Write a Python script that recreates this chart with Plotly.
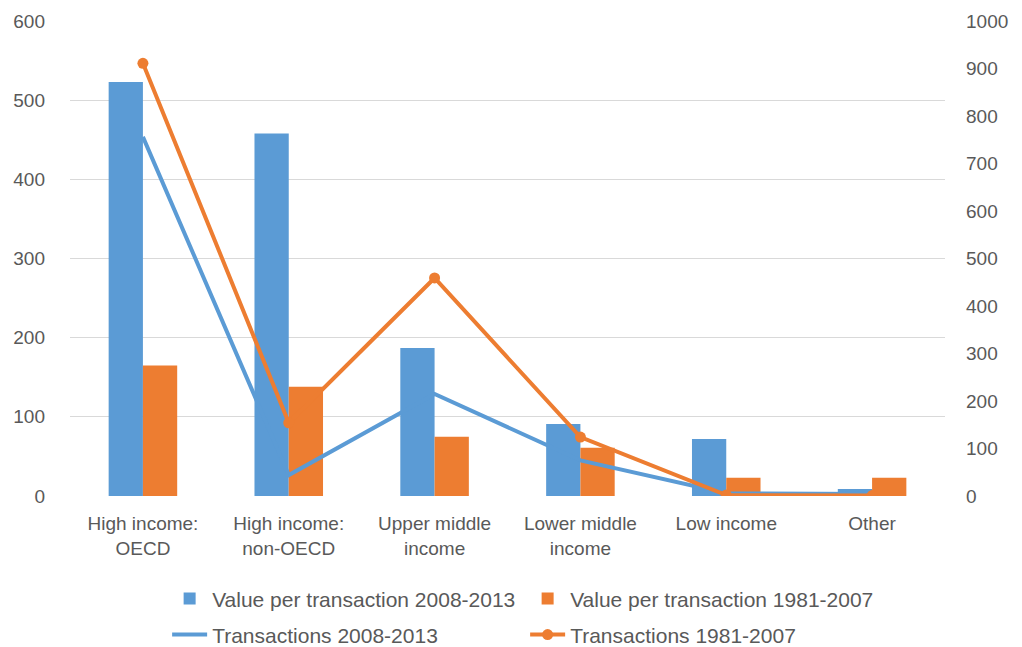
import plotly.graph_objects as go

# Income groups and values
categories = ["High income:<br>OECD", "High income:<br>non-OECD", "Upper middle<br>income",
              "Lower middle<br>income", "Low income", "Other"]
value_2008_2013 = [523, 458, 187, 91, 72, 9]
value_1981_2007 = [165, 138, 75, 61, 23, 23]
transactions_2008_2013 = [756, 44, 215, 75, 6, 4]
transactions_1981_2007 = [911, 154, 459, 124, 2, 1]

blue = '#5B9BD5'
orange = '#ED7D31'
grey_text = '#595959'

fig = go.Figure()

# Value per transaction bars (left axis)
fig.add_trace(go.Bar(
    x=categories, y=value_2008_2013,
    name='Value per transaction 2008-2013', legend='legend',
    marker=dict(color=blue, line=dict(width=0))
))
fig.add_trace(go.Bar(
    x=categories, y=value_1981_2007,
    name='Value per transaction 1981-2007', legend='legend',
    marker=dict(color=orange, line=dict(width=0))
))

# Transaction counts (right axis)
fig.add_trace(go.Scatter(
    x=categories, y=transactions_2008_2013,
    mode='lines', yaxis='y2',
    name='Transactions 2008-2013', legend='legend2',
    line=dict(color=blue, width=4)
))
fig.add_trace(go.Scatter(
    x=categories, y=transactions_1981_2007,
    mode='lines+markers', yaxis='y2',
    name='Transactions 1981-2007', legend='legend2',
    line=dict(color=orange, width=4),
    marker=dict(color=orange, size=11)
))

# two one-row legends so the row spacing matches the original
legend_style = dict(orientation='h', xanchor='left', yanchor='middle', yref='container',
                    entrywidth=308, font=dict(size=21, color=grey_text),
                    itemwidth=35, bgcolor='rgba(0,0,0,0)')

fig.update_layout(
    width=1022, height=647,
    template='plotly_white',
    plot_bgcolor='white', paper_bgcolor='white',
    font=dict(family='Liberation Sans', size=19, color=grey_text),
    barmode='group', bargap=0.53, bargroupgap=0,
    margin=dict(l=62, r=85, t=13, b=159),
    xaxis=dict(showgrid=False, showline=False, ticks='', zeroline=False, automargin=False,
               ticklabelstandoff=14, tickfont=dict(size=19, color=grey_text)),
    yaxis=dict(range=[0, 600], dtick=100, showgrid=True, gridcolor='#D9D9D9',
               gridwidth=1, zeroline=False, showline=False, ticks='', automargin=False,
               ticklabelstandoff=24, tickfont=dict(size=19, color=grey_text)),
    yaxis2=dict(range=[0, 1000], dtick=100, overlaying='y', side='right',
                showgrid=False, zeroline=False, showline=False, ticks='', automargin=False,
                ticklabelstandoff=20, tickfont=dict(size=19, color=grey_text)),
    legend=dict(legend_style, x=0.111, y=0.0866),
    legend2=dict(legend_style, x=0.111, y=0.031),
    showlegend=True
)

fig.write_html("out.html")
